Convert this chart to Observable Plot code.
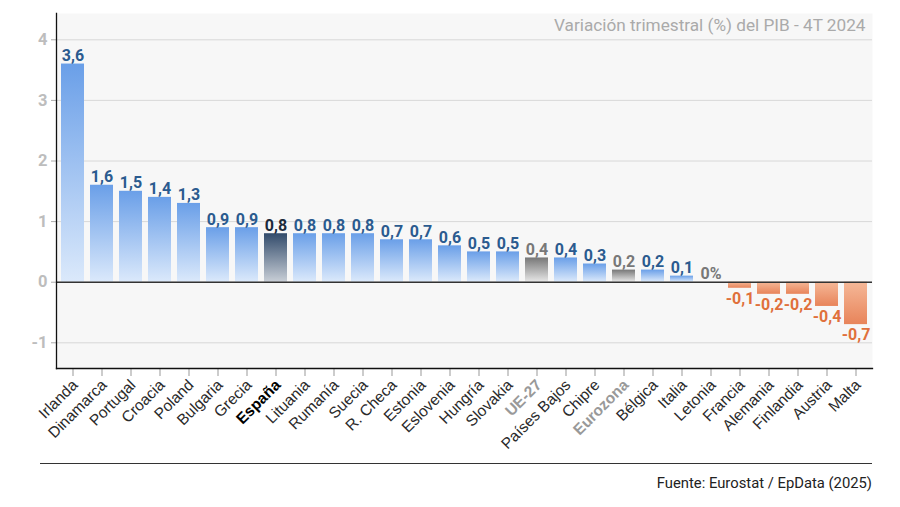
<!DOCTYPE html>
<html><head><meta charset="utf-8">
<script src="https://cdn.jsdelivr.net/npm/d3@7"></script>
<script src="https://cdn.jsdelivr.net/npm/@observablehq/plot@0.6"></script>
<style>
body{margin:0;background:#fff;font-family:Roboto,sans-serif;}
#wrap{position:relative;width:900px;height:507px;overflow:hidden;}
#chart{position:absolute;left:0;top:0;}
#rule{position:absolute;left:40px;top:463px;width:832px;height:1.3px;background:#333;}
#src{position:absolute;right:28px;top:474px;font-size:14.8px;line-height:18px;color:#222;font-family:Roboto,sans-serif;}
</style></head><body>
<div id="wrap"><div id="chart"></div><div id="rule"></div><div id="src">Fuente: Eurostat / EpData (2025)</div></div>
<script>
const countries = ["Irlanda","Dinamarca","Portugal","Croacia","Poland","Bulgaria","Grecia","España","Lituania","Rumanía","Suecia","R. Checa","Estonia","Eslovenia","Hungría","Slovakia","UE-27","Países Bajos","Chipre","Eurozona","Bélgica","Italia","Letonia","Francia","Alemania","Finlandia","Austria","Malta"];
const values = [3.6,1.6,1.5,1.4,1.3,0.9,0.9,0.8,0.8,0.8,0.8,0.7,0.7,0.6,0.5,0.5,0.4,0.4,0.3,0.2,0.2,0.1,0,-0.1,-0.2,-0.2,-0.4,-0.7];
const highlight = ["España"];
const aggregates = ["UE-27","Eurozona"];
const yTicks = [-1,0,1,2,3,4];
const title = "Variación trimestral (%) del PIB - 4T 2024";

const data = countries.map((c,i)=>({name:c, value:values[i]}));
const kind = d => highlight.includes(d.name) ? "es" : aggregates.includes(d.name) ? "agg" : d.value < 0 ? "neg" : "pos";
const fmt = v => v === 0 ? "0%" : d3.format(".1f")(v).replace(".", ",").replace("\u2212","-");
const labelColor = {pos:"#2b5b8f", es:"#1c2a3b", agg:"#787878", neg:"#e0703c"};
const tickColor = d => highlight.includes(d.name) ? "#000" : aggregates.includes(d.name) ? "#999" : "#2a2a2a";

const barMarks = ["pos","es","agg","neg"].map(k =>
  Plot.barY(data.filter(d => kind(d) === k && d.value !== 0), {x:"name", y:"value", fill:`url(#g-${k})`})
);

const plot = Plot.plot({
  width: 900, height: 455,
  marginLeft: 56, marginRight: 28, marginTop: 13, marginBottom: 87,
  style: {fontFamily: "Roboto, sans-serif", background: "transparent"},
  x: {domain: countries, paddingInner: 0.21, paddingOuter: 0.087, label: null},
  y: {domain: [-1.424, 4.434], label: null},
  color: {type: "identity"},
  marks: [
    Plot.frame({fill: "#f7f7f7", stroke: null}),
    Plot.ruleY(yTicks, {stroke: "#d8d8d8", strokeWidth: 1}),
    Plot.axisY(yTicks, {tickSize: 5, tickPadding: 4, fontSize: 16.5, fontWeight: "bold", fill: "#bdbdbd", stroke: "#aaa", label: null, tickFormat: d => String(d).replace("\u2212","-")}),
    Plot.axisX({tickSize: 8, tickFormat: () => "", stroke: "#999", label: null}),
    ...barMarks,
    Plot.ruleY([0], {stroke: "#333", strokeWidth: 1.5}),
    Plot.frame({anchor: "left", stroke: "#111", strokeWidth: 1.3}),
    Plot.frame({anchor: "bottom", stroke: "#111", strokeWidth: 1.3}),
    Plot.text(data.filter(d => d.value >= 0), {x:"name", y:"value", text: d => fmt(d.value), lineAnchor:"bottom", dy:-3, fontSize:16, fontWeight:"bold", fill: d => d.value === 0 ? "#787878" : labelColor[kind(d)]}),
    Plot.text(data.filter(d => d.value < 0), {x:"name", y:"value", text: d => fmt(d.value), lineAnchor:"top", dy:4, fontSize:16, fontWeight:"bold", fill: d => labelColor[kind(d)]}),
    Plot.text(data.filter(d => !highlight.includes(d.name) && !aggregates.includes(d.name)), {x:"name", text:"name", frameAnchor:"bottom", rotate:-45, textAnchor:"end", lineAnchor:"middle", dx:2, dy:14, fontSize:15.5, fontFamily:"Liberation Sans, Arial, sans-serif", fill: tickColor}),
    Plot.text(data.filter(d => highlight.includes(d.name) || aggregates.includes(d.name)), {x:"name", text:"name", frameAnchor:"bottom", rotate:-45, textAnchor:"end", lineAnchor:"middle", dx:2, dy:14, fontSize:15.5, fontWeight:"bold", fontFamily:"Liberation Sans, Arial, sans-serif", fill: tickColor}),
    Plot.text([title], {frameAnchor:"top-right", dx:-7, dy:5, lineAnchor:"top", fontSize:17.2, fill:"#aaaaaa"})
  ]
});

const defs = `<defs>
<linearGradient id="g-pos" x1="0" y1="0" x2="0" y2="1"><stop offset="0" stop-color="#6a9fe8"/><stop offset="1" stop-color="#dbe9fb"/></linearGradient>
<linearGradient id="g-es" x1="0" y1="0" x2="0" y2="1"><stop offset="0" stop-color="#324b6b"/><stop offset="1" stop-color="#c8ced6"/></linearGradient>
<linearGradient id="g-agg" x1="0" y1="0" x2="0" y2="1"><stop offset="0" stop-color="#777777"/><stop offset="1" stop-color="#e6e6e6"/></linearGradient>
<linearGradient id="g-neg" x1="0" y1="0" x2="0" y2="1"><stop offset="0" stop-color="#f5b898"/><stop offset="1" stop-color="#e8845a"/></linearGradient>
</defs>`;
plot.insertAdjacentHTML("afterbegin", defs);
document.getElementById("chart").appendChild(plot);
</script>
</body></html>
